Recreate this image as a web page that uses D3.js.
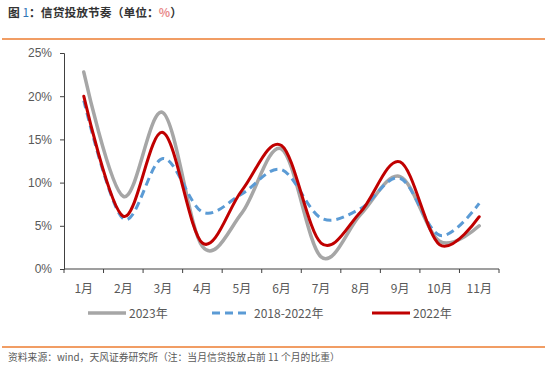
<!DOCTYPE html>
<html>
<head>
<meta charset="utf-8">
<script src="https://cdn.jsdelivr.net/npm/d3@7"></script>
<style>
  body { margin: 0; background: #fff; }
  svg { font-family: "Noto Sans CJK SC", "Liberation Sans", sans-serif; }
</style>
</head>
<body>
<svg id="chart" width="549" height="370"></svg>
<script>
// months on the x axis
const months = ["1月", "2月", "3月", "4月", "5月", "6月", "7月", "8月", "9月", "10月", "11月"]
// share of 11-month credit issued in each month, %
const y2023 = [22.8, 8.4, 18.1, 2.6, 6.5, 13.9, 1.4, 6.3, 10.7, 3.2, 5.0]
const avg1822 = [19.5, 5.8, 12.8, 6.6, 8.7, 11.5, 5.9, 7.0, 10.5, 3.9, 7.6]
const y2022 = [20.0, 6.1, 15.8, 3.0, 9.1, 14.3, 3.0, 6.6, 12.4, 2.8, 6.05]
const yTicks = [0, 5, 10, 15, 20, 25]

const series = [
    {name: "2023年", values: y2023, color: "#a6a6a6", width: 3.5, dash: null},
    {name: "2018-2022年", values: avg1822, color: "#5b9bd5", width: 3, dash: "8,5"},
    {name: "2022年", values: y2022, color: "#c00000", width: 3, dash: null}
]

const svg = d3.select("#chart")
const plotL = 64, plotR = 499, plotT = 53, plotB = 269

const x = d3.scaleBand().domain(months).range([plotL, plotR])
const y = d3.scaleLinear().domain([0, 25]).range([plotB, plotT])

// orange rules
svg.append("line").attr("x1", 2).attr("x2", 545).attr("y1", 39).attr("y2", 39)
    .attr("stroke", "#ed7d31").attr("stroke-width", 1.5)
svg.append("line").attr("x1", 2).attr("x2", 545).attr("y1", 347).attr("y2", 347)
    .attr("stroke", "#ed7d31").attr("stroke-width", 1.5)

// title
const title = svg.append("text").attr("x", 8).attr("y", 17)
    .attr("font-size", 11.8).attr("font-weight", "bold").attr("fill", "#333")
title.append("tspan").text("图 ")
title.append("tspan").attr("fill", "#2e75b6").attr("font-weight", "normal").text("1")
title.append("tspan").text("：信贷投放节奏（单位：")
title.append("tspan").attr("fill", "#e98b8b").text("%")
title.append("tspan").text("）")

// y axis
const yAxis = svg.append("g").attr("transform", `translate(${plotL},0)`)
    .call(d3.axisLeft(y).tickValues(yTicks).tickFormat(d => d + "%").tickSizeOuter(0).tickSize(4))
yAxis.select(".domain").attr("stroke", "#404040")
yAxis.selectAll(".tick line").attr("stroke", "#404040")
yAxis.selectAll("text").attr("font-size", 12).attr("fill", "#595959")
    .attr("font-family", "Liberation Sans, sans-serif").attr("x", -12)

// x axis with ticks between categories
const xAxis = svg.append("g").attr("transform", `translate(0,${plotB})`)
xAxis.append("line").attr("x1", plotL).attr("x2", plotR).attr("stroke", "#404040").attr("stroke-width", 1.2)
const bounds = months.map(m => x(m)).concat([plotR])
xAxis.selectAll(".xt").data(bounds).enter().append("line")
    .attr("x1", d => d).attr("x2", d => d).attr("y1", 0).attr("y2", 4)
    .attr("stroke", "#404040")
xAxis.selectAll(".xl").data(months).enter().append("text")
    .attr("x", d => x(d) + x.bandwidth() / 2).attr("y", 24)
    .attr("text-anchor", "middle").attr("font-size", 12).attr("fill", "#595959")
    .text(d => d)

// lines
const line = d3.line()
    .x((d, i) => x(months[i]) + x.bandwidth() / 2)
    .y(d => y(d))
    .curve(d3.curveCardinal.tension(0))

svg.selectAll(".series").data(series).enter().append("path")
    .attr("d", d => line(d.values))
    .attr("fill", "none")
    .attr("stroke", d => d.color)
    .attr("stroke-width", d => d.width)
    .attr("stroke-dasharray", d => d.dash)
    .attr("stroke-linecap", d => d.dash ? "butt" : "round")

// legend
const legendX = [88, 212, 372]
const lg = svg.selectAll(".lg").data(series).enter().append("g")
    .attr("transform", (d, i) => `translate(${legendX[i]},313)`)
lg.append("line").attr("x1", 0).attr("x2", (d, i) => i == 1 ? 36 : 38)
    .attr("stroke", d => d.color).attr("stroke-width", d => d.width)
    .attr("stroke-dasharray", d => d.dash)
lg.append("text").attr("x", (d, i) => i == 1 ? 42 : 41).attr("y", 4.5)
    .attr("font-size", 12).attr("fill", "#595959").text(d => d.name)

// source note
svg.append("text").attr("x", 8).attr("y", 361).attr("font-size", 9.8).attr("fill", "#595959")
    .text("资料来源：wind，天风证券研究所（注：当月信贷投放占前 11 个月的比重）")
</script>
</body>
</html>
